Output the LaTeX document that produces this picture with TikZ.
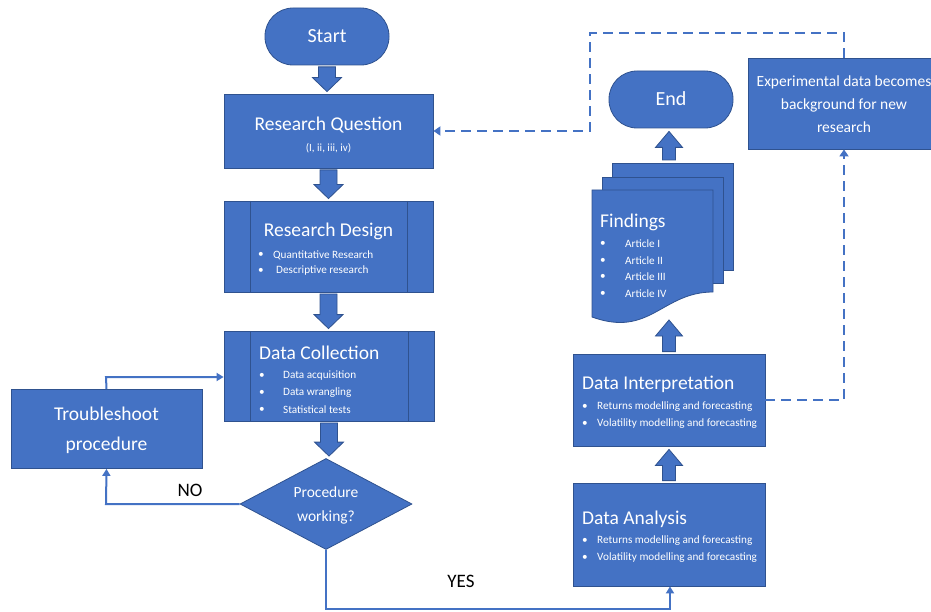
\documentclass[tikz,border=0pt]{standalone}
\usepackage{fontspec}
\setmainfont{Carlito}
\usetikzlibrary{shapes.geometric,calc,arrows.meta}
\definecolor{obl}{HTML}{4472C4}
\definecolor{obd}{HTML}{2F528F}
\tikzset{
  box/.style={draw=obd,fill=obl,line width=0.8pt,inner sep=0pt},
  term/.style={box,rounded corners=28pt},
  wtxt/.style={text=white,inner sep=0pt,align=left},
  ttl/.style={wtxt,font=\fontsize{19.5}{22}\selectfont},
  sml/.style={wtxt,font=\fontsize{11.2}{17}\selectfont},
  blockarr/.style={draw=obd,fill=obl,line width=0.8pt},
  conn/.style={draw=obl,line width=2pt,-{Triangle[width=8pt,length=7pt]}},
  dconn/.style={draw=obl,line width=2.6pt,dash pattern=on 10pt off 6pt,-{Triangle[width=9pt,length=7pt]}},
  lbl/.style={text=black,inner sep=0pt,font=\fontsize{19}{21}\selectfont}
}
\newcommand\barrowdown[2]{\draw[blockarr] let \p1=($(#1.south)+(0,1.5)$), \p2=($(#2.north)+(0,-2)$) in
  (\x1-8.5pt,\y1) -- (\x1+8.5pt,\y1) -- (\x1+8.5pt,\y2+14pt) -- (\x1+14.5pt,\y2+14pt) -- (\x1,\y2) -- (\x1-14.5pt,\y2+14pt) -- (\x1-8.5pt,\y2+14pt) -- cycle;}
\newcommand\barrowup[2]{\draw[blockarr] let \p1=(#1), \p2=(#2) in
  (\x1-6.5pt,\y1) -- (\x1+6.5pt,\y1) -- (\x1+6.5pt,\y2-16pt) -- (\x1+13.5pt,\y2-16pt) -- (\x1,\y2) -- (\x1-13.5pt,\y2-16pt) -- (\x1-6.5pt,\y2-16pt) -- cycle;}
\begin{document}
\begin{tikzpicture}[x=1pt,y=-1pt]
\useasboundingbox (0,0) rectangle (931,612);
% left column
\node[term,minimum width=124pt,minimum height=57pt] (start) at (327,36.5) {};
\node[ttl,font=\fontsize{20}{22}\selectfont] at (327,36) {Start};
\node[box,minimum width=209pt,minimum height=74pt] (rq) at (328.5,131) {};
\node[ttl] at (328.5,125) {Research Question};
\node[sml,font=\fontsize{11}{12}\selectfont] at (328.5,148) {(I, ii, iii, iv)};
\node[box,minimum width=209pt,minimum height=91pt] (rd) at (328.5,246.5) {};
\draw[obd,line width=0.8pt] (250,201) -- (250,292) (407,201) -- (407,292);
\node[ttl] at (328.5,231) {Research Design};
\node[sml,anchor=west] at (258,255) {\textbullet};
\node[sml,anchor=west] at (273,255) {Quantitative Research};
\node[sml,anchor=west] at (258,271) {\textbullet};
\node[sml,anchor=west] at (276,271) {Descriptive research};
\node[box,minimum width=210pt,minimum height=90pt] (dc) at (329,376) {};
\draw[obd,line width=0.8pt] (250,331) -- (250,421) (408,331) -- (408,421);
\node[ttl,anchor=west] at (259,353) {Data Collection};
\node[sml,anchor=west] at (259,376) {\textbullet};
\node[sml,anchor=west] at (283,376) {Data acquisition};
\node[sml,anchor=west] at (259,393) {\textbullet};
\node[sml,anchor=west] at (283,393) {Data wrangling};
\node[sml,anchor=west] at (259,410) {\textbullet};
\node[sml,anchor=west] at (283,410) {Statistical tests};
\node[box,diamond,minimum width=172pt,minimum height=91pt,aspect=1.9] (dec) at (326,504) {};
\node[wtxt,align=center,font=\fontsize{15.5}{24}\selectfont] at (326,505) {Procedure\\working?};
\node[box,minimum width=191pt,minimum height=79pt] (tr) at (106.5,429) {};
\node[wtxt,align=center,font=\fontsize{19.5}{30}\selectfont] at (106.5,430) {Troubleshoot\\procedure};
% right column
\node[box,minimum width=192pt,minimum height=103pt] (da) at (669,534.5) {};
\node[ttl,anchor=west] at (582,519) {Data Analysis};
\node[sml,anchor=west] at (582,541) {\textbullet};
\node[sml,anchor=west] at (597,541) {Returns modelling and forecasting};
\node[sml,anchor=west] at (582,558) {\textbullet};
\node[sml,anchor=west] at (597,558) {Volatility modelling and forecasting};
\node[box,minimum width=192pt,minimum height=92pt] (di) at (669,400) {};
\node[ttl,anchor=west] at (582,384) {Data Interpretation};
\node[sml,anchor=west] at (582,407) {\textbullet};
\node[sml,anchor=west] at (597,407) {Returns modelling and forecasting};
\node[sml,anchor=west] at (582,424) {\textbullet};
\node[sml,anchor=west] at (597,424) {Volatility modelling and forecasting};
% findings (multi-document)
\draw[box] (612,163) rectangle (733,270);
\draw[box] (602,177) rectangle (723,283);
\draw[box] (592,190) -- (713,190) -- (713,292) .. controls (662,292) and (650,338) .. (592,317) -- cycle;
\coordinate (fbot) at (669,319);
\coordinate (ftop) at (669,163);
\node[ttl,anchor=west] at (600,222) {Findings};
\node[sml,anchor=west] at (600,244) {\textbullet};
\node[sml,anchor=west] at (625,244) {Article I};
\node[sml,anchor=west] at (600,261) {\textbullet};
\node[sml,anchor=west] at (625,261) {Article II};
\node[sml,anchor=west] at (600,277) {\textbullet};
\node[sml,anchor=west] at (625,277) {Article III};
\node[sml,anchor=west] at (600,294) {\textbullet};
\node[sml,anchor=west] at (625,294) {Article IV};
\node[term,minimum width=124pt,minimum height=57pt] (end) at (671,99.5) {};
\node[ttl,font=\fontsize{20}{22}\selectfont] at (671,99) {End};
\node[box,minimum width=192pt,minimum height=91pt] (exp) at (844,103.5) {};
\node[wtxt,align=center,font=\fontsize{15.5}{23}\selectfont] at (844,104) {Experimental data becomes\\background for new\\research};
% block arrows
\barrowdown{start}{rq}
\barrowdown{rq}{rd}
\barrowdown{rd}{dc}
\barrowdown{dc}{dec}
\barrowup{$(da.north)+(0,-2)$}{$(di.south)+(0,3)$}
\barrowup{$(di.north)+(0,-2)$}{$(fbot)+(0,1)$}
\barrowup{$(ftop)+(0,-3)$}{$(end.south)+(0,3)$}
% connectors
\coordinate (n1) at (106,504);
\coordinate (t1) at (106,377);
\draw[conn] (dec.west) -- (n1) -- (tr.south);
\draw[conn] (tr.north) -- (t1) -- (dc.west |- t1);
\coordinate (y1) at (326,609);
\coordinate (y2) at (670,609);
\draw[conn] (dec.south) -- (y1) -- (y2) -- (da.south -| y2);
\node[lbl] at (190,490) {NO};
\node[lbl] at (461,581) {YES};
% dashed feedback
\coordinate (d1) at (844,400);
\draw[dconn] (di.east |- d1) -- (d1) -- (exp.south);
\coordinate (e1) at (844,33);
\coordinate (e2) at (590,33);
\coordinate (e3) at (590,131);
\draw[dconn] (exp.north) -- (e1) -- (e2) -- (e3) -- (rq.east);
\end{tikzpicture}
\end{document}
